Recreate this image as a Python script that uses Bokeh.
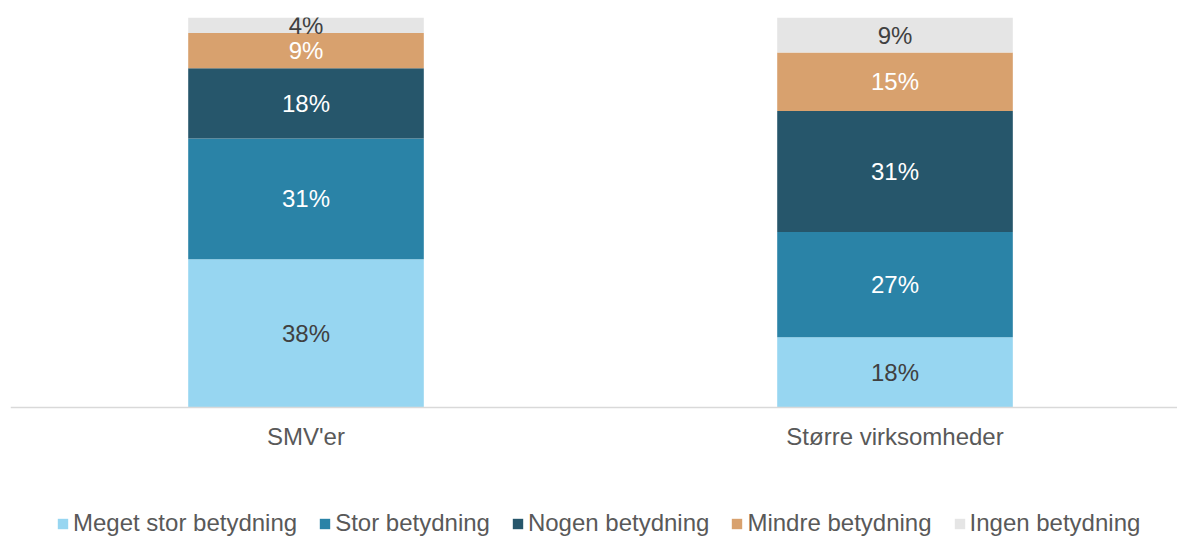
from bokeh.plotting import figure
from bokeh.models import ColumnDataSource, Range1d, Legend, LegendItem, FixedTicker
from bokeh.core.properties import value
from bokeh.embed import file_html
from bokeh.resources import INLINE
import numpy as np

categories = ["SMV'er", "Større virksomheder"]
series = ["Meget stor betydning", "Stor betydning", "Nogen betydning", "Mindre betydning", "Ingen betydning"]
meget_stor = [38, 18]
stor = [31, 27]
nogen = [18, 31]
mindre = [9, 15]
ingen = [4, 9]

colors = ["#97D6F1", "#2A83A7", "#26566B", "#D8A16E", "#E5E5E5"]
label_colors = ["#404040", "#FFFFFF", "#FFFFFF", "#FFFFFF", "#404040"]
FONT = "Liberation Sans"

values = [meget_stor, stor, nogen, mindre, ingen]
keys = ["s%d" % i for i in range(len(series))]
xpos = list(range(len(categories)))
data = {"x": xpos}
for k, v in zip(keys, values):
    data[k] = v
src = ColumnDataSource(data)

p = figure(frame_width=1167, frame_height=519, output_backend="svg", toolbar_location=None,
           x_range=Range1d(-0.5017, 1.4796),
           y_range=Range1d(-33.077, 100),
           min_border_top=17, min_border_left=10, min_border_right=0, min_border_bottom=0)

renderers = p.vbar_stack(keys, x="x", width=0.4, color=colors, source=src, line_color=None)

# data labels
arr = np.array(values, dtype=float)
cum = np.cumsum(arr, axis=0)
mids = cum - arr / 2
lx, ly, lt, lc = [], [], [], []
for i in range(len(series)):
    for j in xpos:
        lx.append(j)
        ly.append(mids[i, j])
        lt.append("%d%%" % values[i][j])
        lc.append(label_colors[i])
lsrc = ColumnDataSource(dict(x=lx, y=ly, t=lt, c=lc))
p.text(x="x", y="y", text="t", text_color="c", source=lsrc, text_align="center",
       text_baseline="middle", text_font=value(FONT), text_font_size="24px")

p.yaxis.visible = False
p.grid.visible = False
p.outline_line_color = None
p.xaxis.fixed_location = 0
p.xaxis.ticker = FixedTicker(ticks=xpos)
p.xaxis.major_label_overrides = {i: c for i, c in zip(xpos, categories)}
p.xaxis.minor_tick_line_color = None
p.xaxis.axis_line_color = "#D9D9D9"
p.xaxis.axis_line_width = 1.5
p.xaxis.major_tick_line_color = None
p.xaxis.major_label_text_font = FONT
p.xaxis.major_label_text_font_size = "24px"
p.xaxis.major_label_text_color = "#595959"
p.xaxis.major_label_standoff = 10

items = [LegendItem(label=s, renderers=[r]) for s, r in zip(series, renderers)]
legend = Legend(items=items, orientation="horizontal", location=(46, -1),
                label_text_font=FONT, label_text_font_size="24px", label_text_color="#595959",
                glyph_width=13, glyph_height=13, label_standoff=4, spacing=21,
                border_line_color=None, background_fill_alpha=0, padding=0, margin=0,
                label_height=13)
p.add_layout(legend, "center")

open("out.html", "w").write(file_html(p, INLINE))
